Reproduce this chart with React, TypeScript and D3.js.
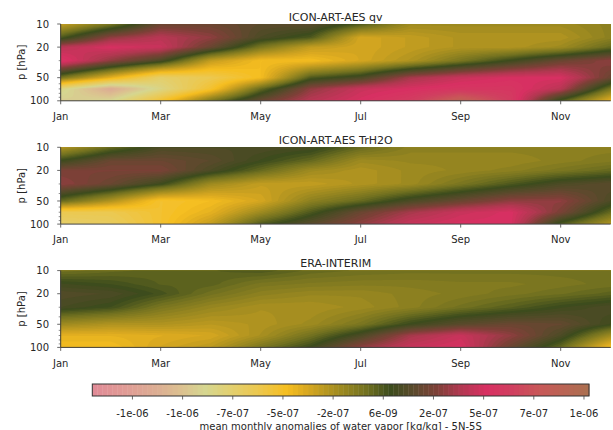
import React from 'react';
import * as d3 from 'd3';

// ---------------- data ----------------
const MONTHS = ['Jan', 'Feb', 'Mar', 'Apr', 'May', 'Jun', 'Jul', 'Aug', 'Sep', 'Oct', 'Nov', 'Dec'];
const TICK_MONTHS = ['Jan', 'Mar', 'May', 'Jul', 'Sep', 'Nov'];
const PRESSURE = [10, 15, 20, 30, 50, 70, 100]; // hPa
const P_MAJOR = [10, 20, 50, 100];
const P_MINOR = [30, 40, 60, 70, 80, 90];
const UNIT = 1e-7; // values below are in 1e-7 kg/kg

const TITLES = ['ICON-ART-AES qv', 'ICON-ART-AES TrH2O', 'ERA-INTERIM'];

// rows = months Jan..Dec, cols = PRESSURE levels (10 .. 100 hPa)
const QV = [
  [-3.0, 0.0, 4.0, 5.5, -1.0, -8.0, -9.0],
  [-1.0, 3.0, 5.0, 3.0, -4.0, -11.0, -8.5],
  [2.0, 4.0, 4.5, 1.0, -7.0, -8.0, -5.0],
  [2.0, 3.0, 2.0, -3.0, -6.0, -5.0, -1.0],
  [1.5, 1.0, -1.0, -4.5, -4.5, -0.5, 2.0],
  [1.5, 0.0, -3.0, -4.5, 0.0, 3.0, 4.0],
  [0.0, -3.5, -3.5, -3.5, 1.0, 4.5, 5.0],
  [-2.0, -3.0, -3.0, -2.5, 3.5, 5.0, 6.0],
  [-2.0, -2.5, -2.5, -1.0, 4.5, 5.5, 8.5],
  [-2.0, -2.5, -2.5, 0.5, 5.0, 5.5, 6.0],
  [-2.0, -2.5, -2.0, 2.0, 5.0, 4.0, 0.0],
  [-1.5, -1.5, -0.5, 3.0, 2.0, -1.0, -4.0],
];

const TRH2O = [
  [-2.5, 0.5, 2.5, 3.0, -0.5, -6.0, -7.0],
  [-0.5, 2.0, 2.5, 2.0, -2.5, -6.0, -6.5],
  [1.0, 2.0, 2.5, 0.5, -5.0, -5.0, -5.0],
  [1.0, 1.5, 1.0, -2.0, -4.5, -4.0, -3.0],
  [1.0, 0.5, -0.5, -3.0, -3.5, -2.0, 0.0],
  [0.8, -0.5, -2.0, -3.0, -1.5, 0.0, 1.5],
  [-0.5, -2.0, -2.5, -2.5, -0.5, 2.0, 3.0],
  [-1.5, -1.8, -2.0, -2.0, 1.0, 3.5, 4.5],
  [-1.5, -1.8, -1.8, -1.0, 2.0, 4.5, 5.0],
  [-1.5, -1.8, -1.5, 0.0, 3.0, 5.0, 5.0],
  [-1.5, -1.5, -1.0, 1.0, 3.0, 2.5, 0.0],
  [-1.5, -1.2, -0.5, 1.5, 1.0, -0.5, -2.5],
];

const ERA = [
  [-0.8, 0.6, 1.2, 0.8, -2.0, -4.0, -4.5],
  [-0.5, 0.3, 1.0, 0.3, -2.5, -4.0, -4.5],
  [-0.3, -0.2, 0.2, -1.0, -2.5, -3.8, -3.5],
  [-0.2, -0.3, -0.8, -1.8, -2.8, -3.5, -2.8],
  [0.0, -1.0, -1.5, -2.3, -2.5, -2.3, -1.0],
  [-0.5, -1.2, -1.8, -2.3, -2.0, -0.8, 0.5],
  [-0.7, -1.3, -1.8, -2.0, -1.0, 1.0, 3.0],
  [-0.8, -1.3, -1.5, -1.5, 0.5, 3.5, 4.5],
  [-0.8, -1.2, -1.3, -0.8, 1.5, 4.5, 5.0],
  [-0.8, -1.2, -1.0, -0.2, 2.0, 3.0, 2.0],
  [-0.8, -1.0, -0.7, 0.5, 1.8, 1.0, -0.5],
  [-0.8, -0.8, -0.3, 1.0, 0.5, -2.0, -4.5],
];

const DATASETS = [QV, TRH2O, ERA];

// colour levels
const VMIN = -1.386e-6;
const VMAX = 9.91e-7;
const N_LEVELS = 100;
const CBAR_TICK_LABELS = ['-1e-06', '-1e-06', '-7e-07', '-5e-07', '-2e-07', '6e-09', '2e-07', '5e-07', '7e-07', '1e-06'];
const CBAR_LABEL = 'mean monthly anomalies of water vapor [kg/kg] - 5N-5S';

// colormap
const CMAP_POS = [0, 0.062, 0.13, 0.177, 0.227, 0.277, 0.332, 0.392, 0.432, 0.499, 0.553, 0.599, 0.646, 0.694, 0.74, 0.794, 0.846, 0.9, 1];
const CMAP_COL = ['#e08a96', '#e09a95', '#dcae93', '#dcc090', '#d6d690', '#e2d070', '#ecc850', '#f6be20', '#d8a820', '#9e8a20', '#707020', '#3c4c1c', '#5a4a2c', '#7e4038', '#b03850', '#d83062', '#d04060', '#c85858', '#aa7050'];

// ---------------- layout ----------------
const W = 613;
const HGT = 430;
const PL = 60.7;
const PR = 610.7;
const PH = 76.8;
const PANEL_TOPS = [24, 147.3, 270.6];
const CB = { x0: 92.3, x1: 589, y0: 384, y1: 396 };
const FONT = 'DejaVu Sans, sans-serif';
const TXT = '#262626';
const AX = '#444';

const NX = 221;
const NY = 97;

const cmap = d3.scaleLinear<string>().domain(CMAP_POS).range(CMAP_COL).interpolate(d3.interpolateRgb).clamp(true);
const levels = d3.range(N_LEVELS).map((i) => VMIN + (i * (VMAX - VMIN)) / (N_LEVELS - 1));
const bandColor = (i: number) => cmap(((levels[i] + levels[i + 1]) / 2 - VMIN) / (VMAX - VMIN));

const logP = PRESSURE.map((p) => Math.log10(p));

function sample(data: number[][], m: number, L: number) {
  const i = Math.min(Math.floor(m), MONTHS.length - 2);
  const fm = m - i;
  let k = 0;
  while (k < logP.length - 2 && L > logP[k + 1]) k++;
  const fp = (L - logP[k]) / (logP[k + 1] - logP[k]);
  const a = data[i][k] * (1 - fp) + data[i][k + 1] * fp;
  const b = data[i + 1][k] * (1 - fp) + data[i + 1][k + 1] * fp;
  return (a * (1 - fm) + b * fm) * UNIT;
}

function Panel({ data, title, top, idx }: { data: number[][]; title: string; top: number; idx: number }) {
  const x = d3.scaleLinear().domain([0, MONTHS.length - 1]).range([PL, PR]);
  const y = d3.scaleLog().domain([10, 100]).range([top, top + PH]);
  const grid: number[] = new Array(NX * NY);
  for (let j = 0; j < NY; j++) {
    const L = 1 + j / (NY - 1);
    for (let i = 0; i < NX; i++) {
      const m = (i * (MONTHS.length - 1)) / (NX - 1);
      grid[j * NX + i] = sample(data, m, L);
    }
  }
  const thr = levels.slice(0, N_LEVELS - 1).map((v, i) => (i === 0 ? -1 : v));
  const contours = d3.contours().size([NX, NY]).thresholds(thr)(grid);
  const proj = d3.geoTransform({
    point(px: number, py: number) {
      const m = ((px - 0.5) * (MONTHS.length - 1)) / (NX - 1);
      const L = 1 + (py - 0.5) / (NY - 1);
      (this as any).stream.point(x(m), y(Math.pow(10, L)));
    },
  });
  const path = d3.geoPath(proj);
  const clipId = `clip-${idx}`;
  const bottom = top + PH;
  return (
    <g>
      <defs>
        <clipPath id={clipId}>
          <rect x={PL} y={top} width={PR - PL} height={PH} />
        </clipPath>
      </defs>
      <g clipPath={`url(#${clipId})`}>
        {contours.map((c, i) => (
          <path key={i} d={path(c as any) || ''} fill={bandColor(i)} stroke="none" />
        ))}
      </g>
      <line x1={PL} x2={PR} y1={bottom} y2={bottom} stroke={AX} strokeWidth={1} />
      <line x1={PL} x2={PL} y1={top} y2={bottom} stroke={AX} strokeWidth={1} />
      {TICK_MONTHS.map((mName) => {
        const xv = x(MONTHS.indexOf(mName));
        return (
          <g key={mName}>
            <line x1={xv} x2={xv} y1={bottom} y2={bottom + 3.5} stroke={AX} strokeWidth={0.8} />
            <text x={xv} y={bottom + 19.3} textAnchor="middle" fontSize={10} fill={TXT} fontFamily={FONT}>
              {mName}
            </text>
          </g>
        );
      })}
      {P_MAJOR.map((p) => (
        <g key={p}>
          <line x1={PL - 3.5} x2={PL} y1={y(p)} y2={y(p)} stroke={AX} strokeWidth={0.8} />
          <text x={49} y={y(p)} dy="0.36em" textAnchor="end" fontSize={10} fill={TXT} fontFamily={FONT}>
            {p}
          </text>
        </g>
      ))}
      {P_MINOR.map((p) => (
        <line key={p} x1={PL - 2} x2={PL} y1={y(p)} y2={y(p)} stroke={AX} strokeWidth={0.6} />
      ))}
      <text
        transform={`translate(24.5, ${top + PH / 2}) rotate(-90)`}
        textAnchor="middle"
        fontSize={10}
        fill={TXT}
        fontFamily={FONT}
      >
        p [hPa]
      </text>
      <text x={(PL + PR) / 2} y={top - 3.3} textAnchor="middle" fontSize={11} fill={TXT} fontFamily={FONT}>
        {title}
      </text>
    </g>
  );
}

function Colorbar() {
  const cx = d3.scaleLinear().domain([VMIN, VMAX]).range([CB.x0, CB.x1]);
  const tickIdx = CBAR_TICK_LABELS.map((_, k) => 8 + 10 * k);
  return (
    <g>
      {levels.slice(0, N_LEVELS - 1).map((v, i) => (
        <rect
          key={i}
          x={cx(v)}
          y={CB.y0}
          width={cx(levels[i + 1]) - cx(v) + 0.4}
          height={CB.y1 - CB.y0}
          fill={bandColor(i)}
        />
      ))}
      <rect x={CB.x0} y={CB.y0} width={CB.x1 - CB.x0} height={CB.y1 - CB.y0} fill="none" stroke="#333" strokeWidth={1} />
      {tickIdx.map((li, k) => {
        const xv = cx(levels[li]);
        return (
          <g key={k}>
            <line x1={xv} x2={xv} y1={CB.y1} y2={CB.y1 + 3.5} stroke={AX} strokeWidth={0.8} />
            <text x={xv} y={416.7} textAnchor="middle" fontSize={10} fill={TXT} fontFamily={FONT}>
              {CBAR_TICK_LABELS[k]}
            </text>
          </g>
        );
      })}
      <text x={(CB.x0 + CB.x1) / 2} y={429.5} textAnchor="middle" fontSize={10} fill={TXT} fontFamily={FONT}>
        {CBAR_LABEL}
      </text>
    </g>
  );
}

export default function App() {
  return (
    <svg
      width={W}
      height={HGT}
      viewBox={`0 0 ${W} ${HGT}`}
      style={{ position: 'absolute', left: 0, top: 0, background: '#fff' }}
    >
      <rect x={0} y={0} width={W} height={HGT} fill="#fff" />
      {DATASETS.map((d, i) => (
        <Panel key={i} data={d} title={TITLES[i]} top={PANEL_TOPS[i]} idx={i} />
      ))}
      <Colorbar />
    </svg>
  );
}
